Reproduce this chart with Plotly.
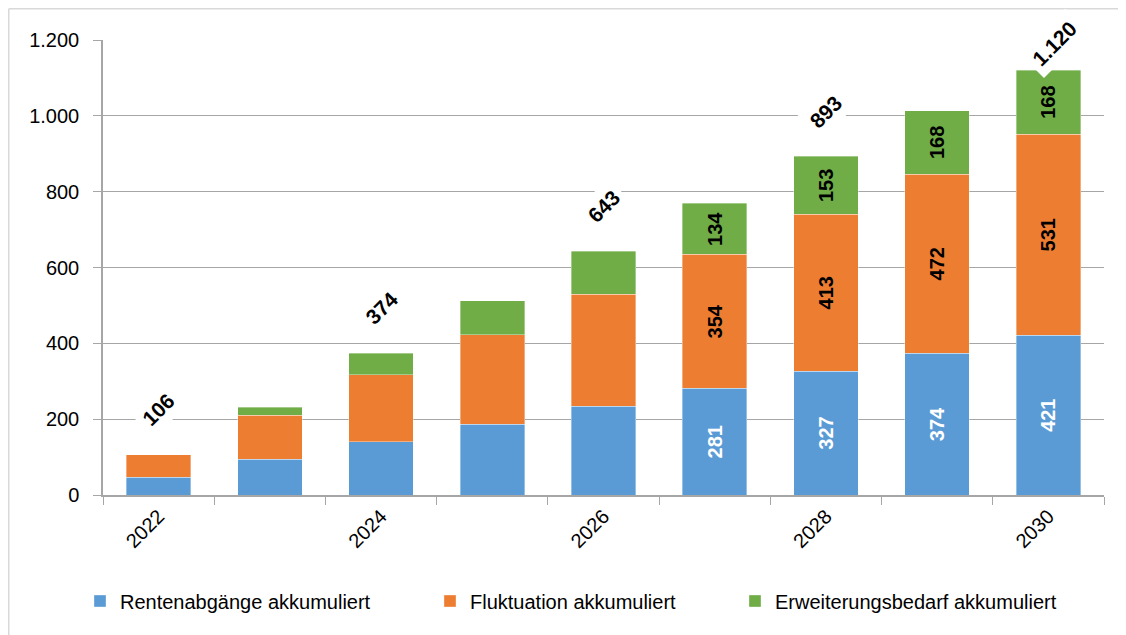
import plotly.graph_objects as go

years = ["2022", "2023", "2024", "2025", "2026", "2027", "2028", "2029", "2030"]
tick_text = ["2022", "", "2024", "", "2026", "", "2028", "", "2030"]
rente = [47, 94, 140, 187, 234, 281, 327, 374, 421]
fluktuation = [59, 117, 177, 236, 295, 354, 413, 472, 531]
erweiterung = [0, 20, 57, 89, 114, 134, 153, 168, 168]
show_segment = [False, False, False, False, False, True, True, True, True]
show_total = [True, False, True, False, True, False, True, False, True]
names = ["Rentenabgänge akkumuliert", "Fluktuation akkumuliert", "Erweiterungsbedarf akkumuliert"]
colors = ["#5B9BD5", "#ED7D31", "#70AD47"]
label_colors = ["white", "black", "black"]

FONT = "Liberation Sans, Arial, sans-serif"

fig = go.Figure()
series = [rente, fluktuation, erweiterung]
legends = ["legend", "legend2", "legend3"]
for vals, name, col, lcol, lg in zip(series, names, colors, label_colors, legends):
    txt = [str(v) if s else "" for v, s in zip(vals, show_segment)]
    fig.add_trace(go.Bar(
        x=years, y=vals, name=name, legend=lg,
        marker=dict(color=col, line=dict(color="rgba(255,255,255,0.6)", width=0.6)),
        text=txt, texttemplate="%{text}", textposition="inside",
        insidetextanchor="middle", textangle=-90,
        textfont=dict(family=FONT, size=20, color=lcol, weight="bold"),
        constraintext="none", hoverinfo="skip",
    ))

def fmt(n):
    return f"{n:,}".replace(",", ".")

totals = [a + b + c for a, b, c in zip(rente, fluktuation, erweiterung)]
for i, (yr, tot, s) in enumerate(zip(years, totals, show_total)):
    if not s:
        continue
    shift = 27 if tot > 1100 else 45
    fig.add_annotation(
        x=i, y=tot, text="<b>" + fmt(tot) + "</b>", showarrow=False,
        textangle=-45, yshift=shift, xshift=(6 if tot > 1100 else 0),
        bgcolor="white", borderpad=5,
        font=dict(family=FONT, size=21, color="black"),
    )

# page offset of the figure inside the html page
OFF = 8
# plot area in page pixels
L, R, T, B = 103, 1104, 40, 495
W, H = R - L, B - T
def px_x(p):
    return (p - L) / W
def px_y(p):
    return (B - p) / H

# chart frame (top and left lines)
fig.add_shape(type="line", xref="paper", yref="paper",
              x0=px_x(OFF + 0.75), x1=px_x(1126 + OFF), y0=px_y(OFF + 0.75), y1=px_y(OFF + 0.75),
              line=dict(color="#D9D9D9", width=1.5))
fig.add_shape(type="line", xref="paper", yref="paper",
              x0=px_x(OFF + 0.75), x1=px_x(OFF + 0.75), y0=px_y(OFF + 0.75), y1=px_y(640),
              line=dict(color="#D9D9D9", width=1.5))

leg_common = dict(orientation="h", yanchor="middle", xanchor="left",
                  font=dict(family=FONT, size=20, color="black"),
                  bgcolor="rgba(0,0,0,0)", itemwidth=30, tracegroupgap=0)
fig.update_layout(
    legend=dict(x=px_x(80), y=px_y(601), **leg_common),
    legend2=dict(x=px_x(430), y=px_y(601), **leg_common),
    legend3=dict(x=px_x(735), y=px_y(601), **leg_common),
)

fig.update_layout(
    barmode="stack", bargap=0.42,
    width=1126, height=635,
    margin=dict(l=L - OFF, r=1126 - (R - OFF), t=T - OFF, b=635 - (B - OFF), autoexpand=False),
    paper_bgcolor="white", plot_bgcolor="white",
    separators=",.",
    font=dict(family=FONT, size=20, color="black"),
    showlegend=True,
)
fig.update_xaxes(
    type="category", range=[-0.5, 8.5], autorange=False,
    tickmode="array", tickvals=years, ticktext=tick_text,
    tickangle=-45, ticks="outside", tickson="boundaries", ticklen=8,
    tickcolor="#A6A6A6", showline=True, linecolor="#A6A6A6", linewidth=1.5,
    showgrid=False, tickfont=dict(family=FONT, size=20, color="black"),
)
fig.update_yaxes(
    range=[0, 1200], tickvals=[0, 200, 400, 600, 800, 1000, 1200],
    tickformat=",d", ticks="outside", ticklen=8, tickcolor="#A6A6A6",
    showline=True, linecolor="#A6A6A6", linewidth=1.5,
    showgrid=True, gridcolor="#A6A6A6", gridwidth=1,
    zeroline=False, ticklabelstandoff=10,
    tickfont=dict(family=FONT, size=20, color="black"),
)

fig.write_html("out.html")
